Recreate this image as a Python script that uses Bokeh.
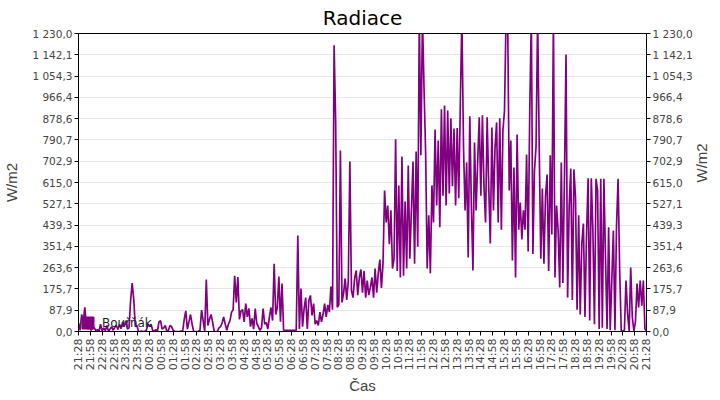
from datetime import datetime, timedelta

from bokeh.embed import file_html
from bokeh.models import (ColumnDataSource, CustomJSTickFormatter, DatetimeTickFormatter,
                          FixedTicker, Legend, LegendItem, LinearAxis, Range1d)
from bokeh.plotting import figure
from bokeh.resources import INLINE
from math import pi

# radiation samples every 4 minutes, one row per hour starting 21:28
r00 = [35, 5, 70, 40, 100, 25, 10, 20, 5, 20, 15, 3, 8, 2, 30]
r01 = [0, 15, 3, 25, 0, 10, 20, 5, 18, 25, 8, 30, 12, 40, 20]
r02 = [45, 10, 15, 125, 200, 135, 20, 25, 0, 0, 2, 0, 0, 5, 30]
r03 = [20, 30, 5, 0, 8, 0, 40, 45, 10, 15, 25, 0, 5, 25, 20]
r04 = [5, 0, 0, 0, 0, 2, 0, 50, 85, 10, 40, 70, 30, 0, 0]
r05 = [0, 0, 5, 88, 45, 0, 215, 25, 50, 70, 40, 0, 0, 0, 15]
r06 = [20, 35, 60, 30, 5, 30, 45, 80, 90, 230, 120, 225, 50, 85, 90]
r07 = [40, 115, 60, 95, 20, 54, 10, 95, 33, 20, 5, 15, 95, 30, 37]
r08 = [10, 60, 99, 45, 280, 70, 100, 227, 40, 198, 5, 5, 5, 5, 5]
r09 = [5, 5, 5, 5, 396, 10, 177, 20, 95, 140, 10, 128, 149, 66, 115]
r10 = [30, 45, 25, 80, 40, 70, 115, 60, 110, 80, 186, 90, 1181, 863, 100]
r11 = [110, 747, 120, 157, 219, 130, 210, 702, 169, 140, 219, 252, 150, 223, 256]
r12 = [160, 250, 140, 210, 150, 182, 223, 140, 260, 160, 240, 297, 180, 280, 582]
r13 = [450, 520, 360, 500, 260, 300, 793, 250, 603, 223, 722, 230, 537, 260, 685]
r14 = [300, 500, 702, 280, 743, 350, 1300, 727, 1300, 1003, 743, 260, 480, 240, 603]
r15 = [450, 834, 520, 788, 430, 917, 560, 933, 520, 912, 570, 880, 600, 838, 520]
r16 = [840, 550, 941, 1300, 768, 500, 698, 305, 888, 520, 252, 780, 500, 700, 884]
r17 = [560, 892, 600, 450, 884, 600, 363, 842, 500, 760, 863, 450, 880, 420, 830]
r18 = [912, 1300, 1300, 582, 788, 293, 677, 223, 813, 420, 532, 380, 500, 420, 731]
r19 = [330, 908, 1300, 320, 664, 764, 1300, 764, 300, 590, 280, 560, 648, 250, 727]
r20 = [400, 1300, 223, 520, 417, 182, 698, 200, 640, 1143, 140, 520, 673, 130, 669]
r21 = [553, 90, 480, 70, 363, 446, 60, 400, 632, 45, 632, 421, 30, 630, 582]
r22 = [10, 630, 15, 630, 305, 10, 430, 5, 210, 417, 5, 437, 630, 252, 2]
r23 = [2, 5, 210, 74, 2, 264, 60, 2, 40, 198, 99, 210, 107, 210, 10]
r_end = [2]

radiation = (r00 + r01 + r02 + r03 + r04 + r05 + r06 + r07 + r08 + r09 + r10 + r11
             + r12 + r13 + r14 + r15 + r16 + r17 + r18 + r19 + r20 + r21 + r22 + r23 + r_end)

start = datetime(2024, 6, 1, 21, 28)
step_minutes = 4
times = [start + timedelta(minutes=step_minutes * i) for i in range(len(radiation))]
end = times[-1]

y_max = 1230.0
y_ticks = [y_max * i / 14 for i in range(15)]
x_ticks = [(start + timedelta(minutes=30 * i)).timestamp() * 1000 for i in range(49)]

series_name = "Bouřňák"
purple = "#800080"
text_grey = "#444444"
font = "DejaVu Sans"
label_font = "Liberation Sans"

source = ColumnDataSource(data=dict(t=times, v=radiation))

p = figure(frame_width=568, frame_height=298, x_axis_type="datetime", output_backend="svg",
           toolbar_location=None, title="Radiace",
           x_range=Range1d(start, end), y_range=Range1d(0, y_max),
           min_border_left=72, min_border_right=60, min_border_top=30, min_border_bottom=56)

line = p.line(x="t", y="v", source=source, line_color=purple, line_width=1.7)
swatch = p.vbar(x="t", top="v", width=1, source=source, fill_color=purple,
                line_color=purple, visible=False)

p.title.align = "center"
p.title.text_font = font
p.title.text_font_size = "20px"
p.title.text_font_style = "normal"
p.title.text_color = "black"
p.title.standoff = 7

y_fmt = CustomJSTickFormatter(code="""
const s = tick.toFixed(1);
const parts = s.split('.');
return parts[0].replace(/\\B(?=(\\d{3})+(?!\\d))/g, ' ') + ',' + parts[1];
""")

p.xaxis.ticker = FixedTicker(ticks=x_ticks)
p.xaxis.formatter = DatetimeTickFormatter(minutes="%H:%M", hourmin="%H:%M", hours="%H:%M", days="%H:%M")
p.xaxis.major_label_orientation = pi / 2
p.xaxis.axis_label = "Čas"

p.yaxis.ticker = FixedTicker(ticks=y_ticks)
p.yaxis.formatter = y_fmt
p.yaxis.axis_label = "W/m2"

right = LinearAxis(ticker=FixedTicker(ticks=y_ticks), formatter=y_fmt, axis_label="W/m2",
                   axis_label_orientation=pi / 2)
p.add_layout(right, "right")

for ax in p.axis:
    ax.major_label_text_font = font
    ax.major_label_text_font_size = "10.5px"
    ax.major_label_text_color = text_grey
    ax.axis_label_text_font = label_font
    ax.axis_label_text_font_size = "15px"
    ax.axis_label_text_font_style = "normal"
    ax.axis_label_text_color = text_grey
    ax.axis_line_color = "black"
    ax.major_tick_line_color = "black"
    ax.major_tick_in = 0
    ax.major_tick_out = 4
    ax.minor_tick_line_color = None
    ax.major_label_standoff = 2
    ax.axis_label_standoff = 3

p.yaxis.axis_label_standoff = 9
right.axis_label_standoff = 6

p.xaxis.major_label_text_font_size = "11px"
p.xaxis.major_label_standoff = 3
p.xaxis.axis_label_standoff = 4

p.xgrid.grid_line_color = None
p.ygrid.ticker = FixedTicker(ticks=y_ticks)
p.ygrid.grid_line_color = "#e8e8e8"
p.outline_line_color = "black"
p.outline_line_width = 1
p.background_fill_color = "white"
p.border_fill_color = "white"

legend = Legend(items=[LegendItem(label=series_name, renderers=[swatch])],
                location=(2, 1), orientation="vertical")
legend.background_fill_alpha = 0
legend.border_line_color = None
legend.label_text_font = font
legend.label_text_font_size = "12px"
legend.label_text_color = "#222222"
legend.glyph_width = 15
legend.glyph_height = 15
legend.padding = 3
legend.margin = 2
legend.label_standoff = 7
p.add_layout(legend)

open("out.html", "w").write(file_html(p, INLINE))
